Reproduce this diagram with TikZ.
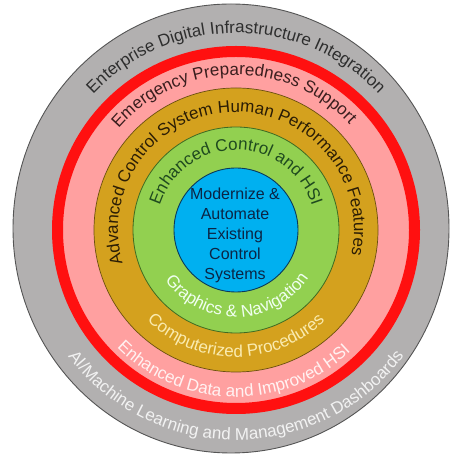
\documentclass[tikz,border=0pt]{standalone}
\usepackage{fontspec}
\setmainfont{Liberation Sans}
\usetikzlibrary{decorations.text}
\definecolor{ringgrey}{HTML}{B2B0B0}
\definecolor{greyedge}{HTML}{555555}
\definecolor{ringred}{HTML}{FF1010}
\definecolor{ringpink}{HTML}{FFA0A0}
\definecolor{ringgold}{HTML}{D4A11E}
\definecolor{goldedge}{HTML}{6B5010}
\definecolor{ringgreen}{HTML}{92D050}
\definecolor{greenedge}{HTML}{3E6A22}
\definecolor{ringblue}{HTML}{00B0F0}
\definecolor{blueedge}{HTML}{0B3A5A}
\definecolor{greytoptext}{HTML}{2E2E2E}
\definecolor{greybottext}{HTML}{F2F2F2}
\definecolor{pinktoptext}{HTML}{3A1E1E}
\definecolor{pinkbottext}{HTML}{FFF2F2}
\definecolor{goldtoptext}{HTML}{2B1D05}
\definecolor{goldbottext}{HTML}{FAEBB0}
\definecolor{greentoptext}{HTML}{1F4A1F}
\definecolor{greenbottext}{HTML}{F0FFF0}
\definecolor{centertext}{HTML}{0B2545}
\newcommand{\ringfont}{\fontsize{17}{17}\selectfont}
\begin{document}
\begin{tikzpicture}[x=1pt,y=1pt]
\useasboundingbox (0,0) rectangle (450,454);
\coordinate (C) at (236,224);
% rings
\filldraw[fill=ringgrey, draw=greyedge, line width=0.9] (231,225.5) ellipse[x radius=218, y radius=224.5];
\fill[ringpink] (C) circle[radius=178.5];
\draw[ringred, line width=11] (C) circle[radius=178.5];
\filldraw[fill=ringgold, draw=goldedge, line width=0.7] (C) circle[radius=142];
\filldraw[fill=ringgreen, draw=greenedge, line width=0.8] (C) circle[radius=103];
\filldraw[fill=ringblue, draw=blueedge, line width=0.9] (C) circle[radius=62];
% centre text
\node[align=center, font=\fontsize{16}{20}\selectfont, text=centertext] (core) at (235,218.8)
  {Modernize \&\\Automate\\Existing\\Control\\Systems};
% top texts (clockwise over the top)
\path[decorate, decoration={text along path, text align=center,
  text={|\ringfont\color{greytoptext}|Enterprise Digital Infrastructure Integration}}]
  ([shift={(C)}]240:197) arc[start angle=240, end angle=-60, radius=197];
\path[decorate, decoration={text along path, text align=center,
  text={|\ringfont\color{pinktoptext}|Emergency Preparedness Support}}]
  ([shift={(C)}]241:155) arc[start angle=241, end angle=-59, radius=155];
\path[decorate, decoration={text along path, text align=center,
  text={|\ringfont\color{goldtoptext}|Advanced Control System Human Performance Features}}]
  ([shift={(C)}]242:118) arc[start angle=242, end angle=-58, radius=118];
\path[decorate, decoration={text along path, text align=center,
  text={|\ringfont\color{greentoptext}|Enhanced Control and HSI}}]
  ([shift={(C)}]240:80) arc[start angle=240, end angle=-60, radius=80];
% bottom texts (counter-clockwise under the bottom)
\path[decorate, decoration={text along path, text align=center,
  text={|\ringfont\color{greybottext}|AI/Machine Learning and Management Dashboards}}]
  ([shift={(C)}]120:210) arc[start angle=120, end angle=420, radius=210];
\path[decorate, decoration={text along path, text align=center,
  text={|\ringfont\color{pinkbottext}|Enhanced Data and Improved HSI}}]
  ([shift={(C)}]119:167) arc[start angle=119, end angle=419, radius=167];
\path[decorate, decoration={text along path, text align=center,
  text={|\ringfont\color{goldbottext}|Computerized Procedures}}]
  ([shift={(C)}]120:127) arc[start angle=120, end angle=420, radius=127];
\path[decorate, decoration={text along path, text align=center,
  text={|\ringfont\color{greenbottext}|Graphics {\&} Navigation}}]
  ([shift={(C)}]121:87) arc[start angle=121, end angle=421, radius=87];
\end{tikzpicture}
\end{document}
